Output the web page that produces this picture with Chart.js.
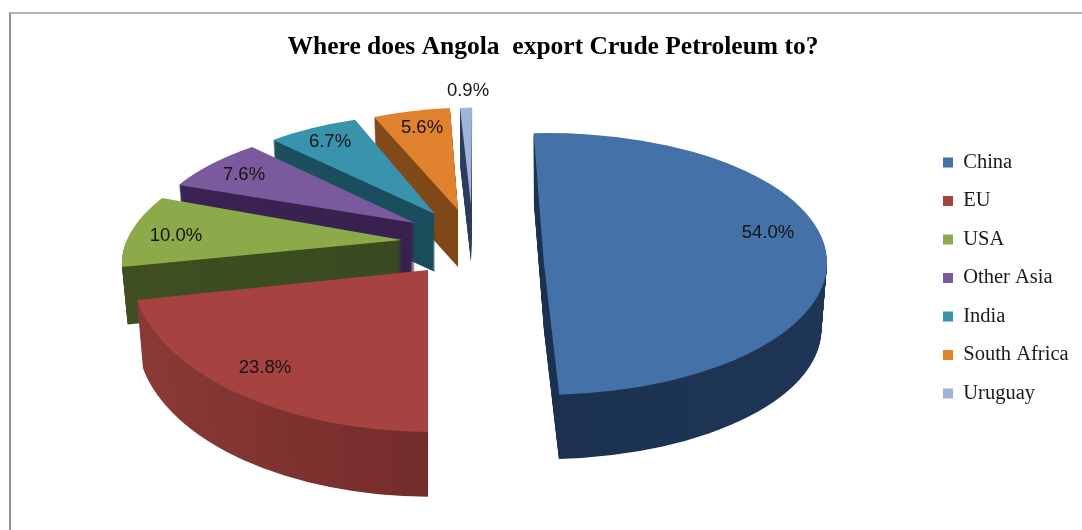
<!DOCTYPE html>
<html>
<head>
<meta charset="utf-8">
<title>Where does Angola export Crude Petroleum to?</title>
<script src="https://cdn.jsdelivr.net/npm/chart.js@4"></script>
<style>
    html, body { margin: 0; padding: 0; background: #fff; }
    #wrap { position: relative; width: 1082px; height: 530px; overflow: hidden; }
    #frame { position: absolute; left: 9px; top: 12px; right: -4px; bottom: -4px;
             border-left: 2px solid #959595; border-top: 2px solid #b4b4b4; }
    canvas { position: absolute; left: 0; top: 0; }
</style>
</head>
<body>
<div id="wrap">
    <div id="frame"></div>
    <canvas id="exportChart" width="1082" height="530"></canvas>
</div>
<script>
// Values as printed on the chart (they add up to 108.6, the pie is drawn on that total)
const categories = ['China', 'EU', 'USA', 'Other Asia', 'India', 'South Africa', 'Uruguay'];
const shares = [54.0, 23.8, 10.0, 7.6, 6.7, 5.6, 0.9];

const topColors = ['#4472A8', '#A6423F', '#8CAA4A', '#7A5A9C', '#3A93AD', '#E1822F', '#A0B4DA'];
const wallColors = [
    ['#2d4b72', '#1b314f', '#1f3656'],
    ['#8b3a37', '#752d2b', '#5f2422'],
    ['#3f4f22', '#3a4a20', '#36451d'],
    ['#3a2352', '#38214f', '#33204b'],
    ['#1b5061', '#1a4d5c', '#174653'],
    ['#86501d', '#7f4716', '#6f3d12'],
    ['#2b3d5e', '#2b3d5e', '#2b3d5e']
];

// Per slice projection of the unit circle: [a, b, c, d, centre x, centre y], extrusion depth
const projections = [
    [283, 0, -3, 131, 544, 264],
    [296, 11.6, -19.1, 161.6, 428, 270],
    [273.3, 4.1, -61.8, 121.4, 402, 240],
    [261.5, 5.3, -38.6, 104.7, 415, 223],
    [245.2, 7.2, -22.8, 100, 435, 214],
    [239.3, -1.3, -15.7, 102.6, 458, 210],
    [230, 0, -11.9, 97.5, 471, 205]
];
const depths = [67, 68, 58, 58, 58, 57, 57];
const labelOffsets = [[224, -31], [-163, 98], [-226, -4], [-171, -48], [-105, -72], [-36, -82], [-3, -114]];

/**
 * Point the context at one slice, so that the arc element lands on its tilted ellipse
 */
function applyProjection(ctx, index, drop, shrink) {
    const p = projections[index];
    ctx.transform(p[0] * shrink, p[1] * shrink, p[2] * shrink, p[3] * shrink, p[4], p[5] + drop);
}

const pie3d = {
    id: 'pie3d',

    afterLayout(chart) {
        // legend sits where the original has it
        const legend = chart.legend;
        const dx = 943 - 18 - legend.left;
        const dy = 278 - (legend.top + legend.bottom) / 2;
        legend.left += dx;
        legend.right += dx;
        legend.top += dy;
        legend.bottom += dy;
    },

    beforeDatasetsDraw(chart) {
        const ctx = chart.ctx;
        const arcs = chart.getDatasetMeta(0).data;

        // back slices first, the front ones cover them
        for (let i = arcs.length - 1; i >= 0; i--) {
            const arc = arcs[i];
            const r = arc.outerRadius;

            for (let t = depths[i]; t >= 1; t--) {
                ctx.save();
                applyProjection(ctx, i, t, 1 - 0.02 * t / depths[i]);
                const wall = ctx.createLinearGradient(-1, 0, 1, 0);
                wall.addColorStop(0, wallColors[i][0]);
                wall.addColorStop(0.5, wallColors[i][1]);
                wall.addColorStop(1, wallColors[i][2]);
                ctx.fillStyle = wall;
                ctx.beginPath();
                ctx.moveTo(0, 0);
                ctx.arc(0, 0, 1, arc.startAngle, arc.endAngle);
                ctx.closePath();
                ctx.fill();
                ctx.restore();
            }

            ctx.save();
            applyProjection(ctx, i, 0, 1);
            ctx.scale(1 / r, 1 / r);
            ctx.translate(-arc.x, -arc.y);
            arc.draw(ctx);
            ctx.restore();
        }

        ctx.save();
        ctx.font = '18.5px "Liberation Sans"';
        ctx.fillStyle = '#141414';
        ctx.textAlign = 'center';
        ctx.textBaseline = 'middle';
        shares.forEach((value, i) => {
            const x = projections[i][4] + labelOffsets[i][0];
            const y = projections[i][5] + labelOffsets[i][1];
            ctx.fillText(`${value.toFixed(1)}%`, x, y);
        });
        ctx.restore();

        return false;
    }
};

new Chart(document.getElementById('exportChart'), {
    type: 'pie',
    plugins: [pie3d],
    data: {
        labels: categories,
        datasets: [{
            data: shares,
            backgroundColor: topColors,
            borderWidth: 0
        }]
    },
    options: {
        responsive: false,
        animation: false,
        rotation: -2.7,
        layout: {
            padding: { left: 24, top: 32 }
        },
        plugins: {
            tooltip: { enabled: false },
            title: {
                display: true,
                text: 'Where does Angola  export Crude Petroleum to?',
                color: '#000',
                font: { family: '"Liberation Serif"', size: 25.5, weight: 'bold' },
                padding: 0
            },
            legend: {
                position: 'right',
                labels: {
                    boxWidth: 10,
                    boxHeight: 10,
                    padding: 18,
                    color: '#1a1a1a',
                    font: { family: '"Liberation Serif"', size: 20.5 }
                }
            }
        }
    }
});
</script>
</body>
</html>
